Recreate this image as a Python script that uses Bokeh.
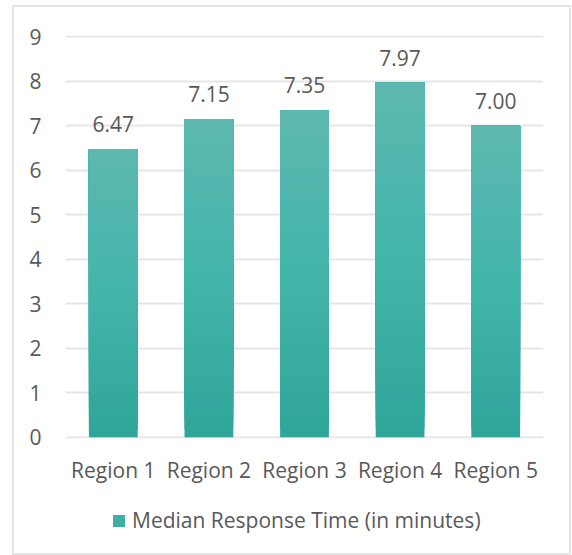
from bokeh.plotting import figure
from bokeh.layouts import column
from bokeh.models import Range1d, FactorRange, ColumnDataSource, Legend, LegendItem
from bokeh.embed import file_html
from bokeh.resources import INLINE
from bokeh.core.properties import value

# ---- data ----
regions = ["Region 1", "Region 2", "Region 3", "Region 4", "Region 5"]
median_minutes = [6.47, 7.15, 7.35, 7.97, 7.00]
value_labels = ["6.47", "7.15", "7.35", "7.97", "7.00"]
y_ticks = [0, 1, 2, 3, 4, 5, 6, 7, 8, 9]
series_name = "Median Response Time (in minutes)"

# ---- style ----
FONT = "Open Sans"
FS = "21px"
TEXT_COLOR = "#595959"
GRID_COLOR = "#e6e6e6"
grad_stops = [(0.0, (0x30, 0xa5, 0x9a)), (0.55, (0x45, 0xb6, 0xac)), (1.0, (0x5e, 0xb8, 0xaf))]
N_SEG = 40


def grad_color(t):
    for (t0, c0), (t1, c1) in zip(grad_stops[:-1], grad_stops[1:]):
        if t0 <= t <= t1:
            f = (t - t0) / (t1 - t0)
            c = [round(a + (b - a) * f) for a, b in zip(c0, c1)]
            return "#%02x%02x%02x" % tuple(c)
    return "#%02x%02x%02x" % grad_stops[-1][1]


# gradient bars: layered rectangles, each reaching the bar top, drawn bottom-up
seg_x, seg_bottom, seg_top, seg_color = [], [], [], []
for k in range(N_SEG):
    for r, v in zip(regions, median_minutes):
        seg_x.append(r)
        seg_bottom.append(v * k / N_SEG)
        seg_top.append(v)
        seg_color.append(grad_color((k + 0.5) / N_SEG))

src = ColumnDataSource(dict(x=seg_x, bottom=seg_bottom, top=seg_top, color=seg_color))

W, H1, H2 = 555, 480, 66
p = figure(
    x_range=FactorRange(*regions),
    y_range=Range1d(-0.03, 9.03),
    width=W, height=H1,
    min_border_left=51, min_border_right=26, min_border_top=28, min_border_bottom=49,
    output_backend="svg", toolbar_location=None,
    background_fill_color="white", border_fill_color="white",
)
p.outline_line_color = None

bars = p.vbar(x="x", bottom="bottom", top="top", width=0.51, fill_color="color",
              line_color=None, source=src)

p.text(x=regions, y=median_minutes, text=value_labels, text_align="center",
       text_baseline="alphabetic", y_offset=-25, text_font=value(FONT),
       text_font_size=FS, text_color=TEXT_COLOR)

# axes
p.yaxis.ticker = y_ticks
for ax in (p.xaxis[0], p.yaxis[0]):
    ax.axis_line_color = None
    ax.major_tick_line_color = None
    ax.minor_tick_line_color = None
    ax.major_label_text_font = FONT
    ax.major_label_text_font_size = FS
    ax.major_label_text_color = TEXT_COLOR
p.yaxis.major_label_standoff = 18
p.xaxis.major_label_standoff = 11

p.xgrid.grid_line_color = None
p.ygrid.grid_line_color = GRID_COLOR
p.ygrid.grid_line_width = 2

# legend strip (separate figure so the legend is not clipped)
p2 = figure(width=W, height=H2, min_border=0, x_axis_type=None, y_axis_type=None,
            x_range=Range1d(0, 1), y_range=Range1d(0, 1),
            output_backend="svg", toolbar_location=None,
            background_fill_color="white", border_fill_color="white")
p2.outline_line_color = None
p2.grid.visible = False
swatch_src = ColumnDataSource(dict(x=[0], top=[0]))
swatch = p2.vbar(x="x", top="top", width=0, source=swatch_src,
                 fill_color=grad_color(0.35), line_color=None)

legend = Legend(
    items=[LegendItem(label=series_name, renderers=[swatch])],
    location=(46, 19), orientation="horizontal",
    padding=0, margin=0, spacing=0,
    glyph_width=15, glyph_height=15, label_standoff=6, label_height=15,
    label_text_font=FONT, label_text_font_size=FS, label_text_color=TEXT_COLOR,
    border_line_color=None, background_fill_alpha=0,
)
p2.add_layout(legend, "center")

layout = column(p, p2, spacing=0)
layout.styles = {"margin-left": "12px", "margin-top": "5px", "border": "2px solid #e4e4e4"}

open("out.html", "w").write(file_html(layout, INLINE))
